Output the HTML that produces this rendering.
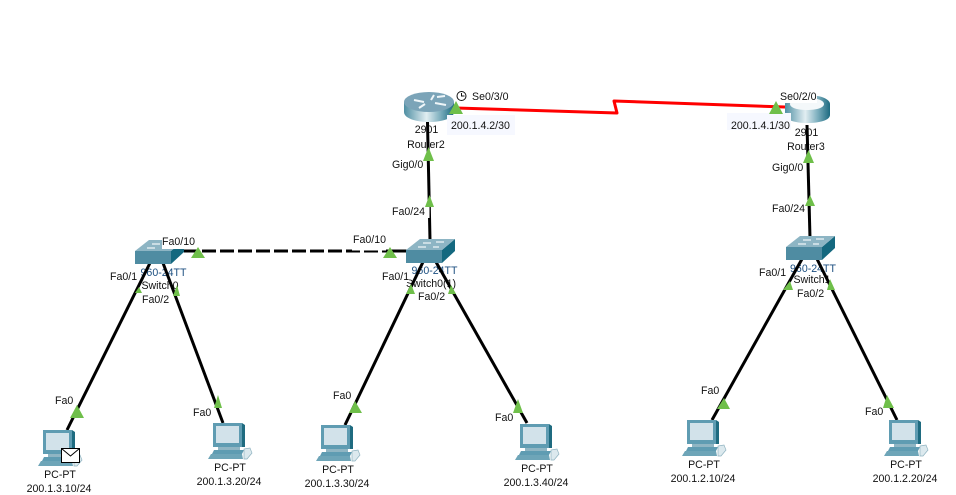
<!DOCTYPE html>
<html>
<head>
<meta charset="utf-8">
<style>
html,body{margin:0;padding:0;background:#fff;width:956px;height:495px;overflow:hidden}
svg{display:block}
text{font-family:"Liberation Sans",sans-serif;font-size:10.6px;fill:#111}
.c{text-anchor:middle}
.b{fill:#1c4f80}
</style>
</head>
<body>
<svg width="956" height="495" viewBox="0 0 956 495" xmlns="http://www.w3.org/2000/svg">
<defs>
<linearGradient id="rg" x1="0" y1="0" x2="1" y2="0">
<stop offset="0" stop-color="#4f8fa3"/><stop offset=".45" stop-color="#e2eef2"/><stop offset=".72" stop-color="#7fb0bf"/><stop offset="1" stop-color="#1c6a80"/>
</linearGradient>
<g id="router">
<path d="M0 10 V20 C0 26 11 30 25 30 C39 30 50 26 50 20 V10Z" fill="url(#rg)"/>
<ellipse cx="25" cy="10" rx="25" ry="10" fill="#7ba4b8"/>
<path d="M10 8 L20 10 M15 16 L21 12 M30 3 L27 8 M31 11 L42 13 M33 5 L41 4" stroke="#eef5f8" stroke-width="2" fill="none"/>
</g>
<g id="switch">
<path d="M0 11 H36 V24 H0Z" fill="#4f8ca2"/>
<path d="M36 11 L49 0 V12 L36 24Z" fill="#14687f"/>
<path d="M0 11 L14 0 H49 L36 11Z" fill="#8db5c4"/>
<path d="M12 8 H20 M17 4 H25 M30 3 H38 M27 8 H33" stroke="#eef5f7" stroke-width="1.2"/>
</g>
<g id="pc">
<path d="M5 0 H34 V24 H5Z" fill="#5f9cb2"/>
<path d="M8 3 H31 V20 H8Z" fill="#d2e2ea"/>
<path d="M34 0 L37 2 V24 L34 24Z" fill="#1f6b80"/>
<path d="M10 24 H32 V27 H10Z" fill="#8fb5c3"/>
<path d="M6 27 H36 L34 31 H4Z" fill="#5f9cb2"/>
<path d="M3 31 H34 L35 36 H0Z" fill="#6ea5b8"/>
<path d="M36 26 L42 25 L44 30 L39 36 L36 36Z" fill="#dce9ee" stroke="#8fb3c0" stroke-width=".7"/>
</g>
</defs>

<!-- device labels (under links) -->
<text class="c" x="426.500" y="133">2901</text>
<text class="c" x="426" y="148">Router2</text>
<text class="c" x="806.500" y="136">2901</text>
<text class="c" x="806" y="150">Router3</text>
<text class="c b" x="163.500" y="276">960-24TT</text>
<text class="c b" x="434.500" y="274">960-24TT</text>
<text class="c b" x="813" y="272">960-24TT</text>
<text class="c" x="160" y="289">Switch0</text>
<text class="c" x="431" y="287">Switch0(1)</text>
<text class="c" x="812" y="283">Switch1</text>

<!-- links -->
<g stroke="#000" stroke-width="3" fill="none">
<path d="M427.500 122 L430 240"/>
<path d="M807 125 L810 238"/>
<path d="M150 263 L67 430"/>
<path d="M163 263 L223 423"/>
<path d="M423 262 L345 425"/>
<path d="M436 262 L527 423"/>
<path d="M802 259 L712 420"/>
<path d="M817 259 L897 420"/>
<path d="M184 251 L395 251" stroke-dasharray="14 4"/>
<path d="M390 251 L408 251"/>
</g>
<path d="M456 108 L617 113 L614 101 L785 107" stroke="#f00" stroke-width="3" fill="none" stroke-linejoin="round"/>

<!-- devices -->
<use href="#router" x="404" y="92"/>
<path d="M785 104 V115 C785 120 795 123 807.500 123 C820 123 830 120 830 115 V104 C830 99 820 95 807.500 95 C795 95 785 99 785 104Z" fill="url(#rg)"/>
<path d="M790 104 C790 100 798 98 807 98 C816 98 824 100 824 104 C824 108 816 110 807 110 C798 110 790 108 790 104Z" fill="#f4f8fa"/>
<use href="#switch" x="135" y="240"/>
<use href="#switch" x="406" y="239"/>
<use href="#switch" x="786" y="236"/>
<use href="#pc" x="38" y="430"/>
<use href="#pc" x="208" y="423"/>
<use href="#pc" x="316" y="425"/>
<use href="#pc" x="515" y="424"/>
<use href="#pc" x="682" y="420"/>
<use href="#pc" x="884" y="420"/>

<!-- envelope -->
<rect x="61.500" y="448.500" width="18" height="14" fill="#fff" stroke="#000" stroke-width="1"/>
<path d="M61.500 448.500 L70.500 456 L79.500 448.500" fill="none" stroke="#000" stroke-width="1"/>

<!-- label backgrounds -->
<rect x="447" y="115" width="68" height="20" fill="#f6f8ff"/>
<rect x="727" y="113" width="64" height="17" fill="#f6f8ff"/>
<rect x="780" y="90" width="37" height="13" fill="#fff"/>
<rect x="162" y="236" width="34" height="13" fill="#fff"/>
<rect x="352" y="235" width="34" height="15.500" fill="#fff"/>
<rect x="391" y="205" width="38.500" height="13" fill="#fff"/>
<rect x="110" y="270" width="27" height="12" fill="#fff"/>
<rect x="142" y="293" width="27" height="13" fill="#fff"/>
<rect x="382" y="270" width="27" height="12" fill="#fff"/>
<rect x="417" y="291" width="28" height="12" fill="#fff"/>
<rect x="758" y="266" width="28" height="12" fill="#fff"/>
<rect x="796" y="287" width="28" height="12" fill="#fff"/>

<!-- triangles -->
<g fill="#6fbf4a">
<path d="M449 114 L456 101 L463 114Z"/>
<path d="M769 114 L776 101 L783 114Z"/>
<path d="M423 161 L428.500 147 L434 161Z"/>
<path d="M803 163 L808.500 150 L814 163Z"/>
<path d="M425 207 L429.500 195 L434 207Z"/>
<path d="M805 206 L810 195 L815 206Z"/>
<path d="M191 258 L198 247 L205 258Z"/>
<path d="M383 258 L390 247 L397 258Z"/>
<path d="M135 293 L139 287 L142 293Z"/>
<path d="M173 296 L177 285 L180 296Z"/>
<path d="M406 294 L411 284 L415 294Z"/>
<path d="M448 294 L451 285 L456 294Z"/>
<path d="M783 290 L790 281 L793 290Z"/>
<path d="M827 290 L830 279 L835 290Z"/>
<path d="M70 418 L77 405 L84 418Z"/>
<path d="M214 408 L218 395 L222 408Z"/>
<path d="M349 413 L355 401 L362 413Z"/>
<path d="M513 413 L518 399 L523 413Z"/>
<path d="M717 409 L724 398 L730 409Z"/>
<path d="M883 408 L887 395 L894 408Z"/>
</g>

<!-- clock -->
<circle cx="461.500" cy="96" r="4.500" fill="#fff" stroke="#111" stroke-width="1"/>
<path d="M461.500 93 V96 H464.500" stroke="#111" stroke-width="1" fill="none"/>

<!-- port and address labels -->
<text x="472" y="100">Se0/3/0</text>
<text x="451" y="129">200.1.4.2/30</text>
<text x="731" y="129">200.1.4.1/30</text>
<text x="780" y="100">Se0/2/0</text>
<text x="392" y="168">Gig0/0</text>
<text x="772" y="171">Gig0/0</text>
<text x="392" y="215">Fa0/24</text>
<text x="772" y="212">Fa0/24</text>
<text x="162" y="245">Fa0/10</text>
<text x="353" y="243">Fa0/10</text>
<text x="110" y="280">Fa0/1</text>
<text x="142" y="303">Fa0/2</text>
<text x="382" y="280">Fa0/1</text>
<text x="418" y="300">Fa0/2</text>
<text x="759" y="276">Fa0/1</text>
<text x="797" y="297">Fa0/2</text>
<text x="55" y="404">Fa0</text>
<text x="193" y="416">Fa0</text>
<text x="333" y="399">Fa0</text>
<text x="495" y="421">Fa0</text>
<text x="701" y="394">Fa0</text>
<text x="865" y="415">Fa0</text>
<text class="c" x="60" y="478">PC-PT</text>
<text class="c" x="59" y="492">200.1.3.10/24</text>
<text class="c" x="230" y="471">PC-PT</text>
<text class="c" x="229" y="485">200.1.3.20/24</text>
<text class="c" x="338" y="473">PC-PT</text>
<text class="c" x="337" y="487">200.1.3.30/24</text>
<text class="c" x="537" y="472">PC-PT</text>
<text class="c" x="536" y="486">200.1.3.40/24</text>
<text class="c" x="704" y="468">PC-PT</text>
<text class="c" x="703" y="482">200.1.2.10/24</text>
<text class="c" x="906" y="468">PC-PT</text>
<text class="c" x="905" y="482">200.1.2.20/24</text>
</svg>
</body>
</html>
